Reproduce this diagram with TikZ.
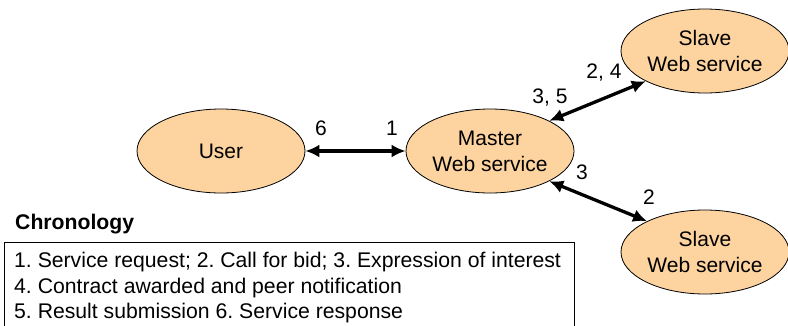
\documentclass[tikz,border=0pt]{standalone}
\usepackage{fontspec}
\setmainfont{Liberation Sans}
\usetikzlibrary{shapes.geometric,arrows.meta}
\definecolor{nodefill}{RGB}{253,212,160}
\hyphenpenalty=10000
\tikzset{
  svc/.style={ellipse, draw=black, line width=0.8pt, fill=nodefill, minimum width=168pt, minimum height=84pt, inner sep=0pt, align=center, font=\fontsize{21}{26}\selectfont},
  lbl/.style={inner sep=0pt, font=\fontsize{21}{26}\selectfont},
  link/.style={line width=3.3pt, {Latex[length=14pt,width=13pt]}-{Latex[length=14pt,width=13pt]}}
}
\begin{document}
\frenchspacing
\begin{tikzpicture}[x=1pt,y=-1pt]
\useasboundingbox (0,0) rectangle (788,325);
\clip (0,0) rectangle (788,325);
\node[svc] (user) at (221,151) {User};
\node[svc] (master) at (490,151) {Master\\Web service};
\node[svc] (slaveA) at (705,51) {Slave\\Web service};
\node[svc] (slaveB) at (705,252) {Slave\\Web service};
\draw[link] (user) -- (master);
\draw[link] (master.27) -- (slaveA.207);
\draw[link] (master.333) -- (slaveB.152);
\node[lbl] (l6) at (321,128) {6};
\node[lbl] (l1) at (392,128) {1};
\node[lbl] (l35) at (550,98) {3, 5};
\node[lbl] (l24) at (604,73) {2, 4};
\node[lbl] (l3) at (582,172) {3};
\node[lbl] (l2) at (649,197) {2};
\node[lbl, anchor=west, font=\fontsize{21.2}{26}\selectfont\bfseries] (chronotitle) at (15,224) {Chronology};
\draw[line width=0.8pt] (4,242) rectangle (574,345);
\node[anchor=north west, align=left, inner xsep=10pt, inner ysep=10pt, font=\fontsize{21.2}{25.5}\selectfont] (chron) at (4,242) {1. Service request; 2. Call for bid; 3. Expression of interest\\4. Contract awarded and peer notification\\5. Result submission 6. Service response};
\end{tikzpicture}
\end{document}
